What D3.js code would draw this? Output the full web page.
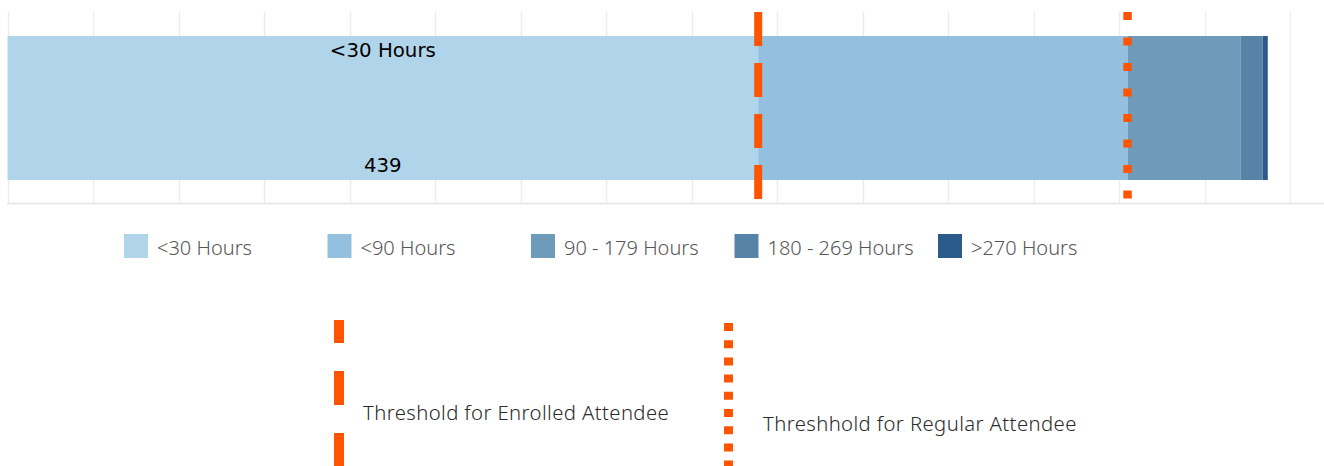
<!DOCTYPE html>
<html>
<head>
<meta charset="utf-8">
<script src="https://cdn.jsdelivr.net/npm/d3@7"></script>
<style>
  html, body { margin: 0; padding: 0; background: #fff; }
  svg { display: block; }
  text { font-family: "Noto Sans", "Open Sans", sans-serif; }
</style>
</head>
<body>
<svg id="chart" width="1324" height="466"></svg>
<script>
// ---- data ----
const categories = ["<30 Hours", "<90 Hours", "90 - 179 Hours", "180 - 269 Hours", ">270 Hours"];
const values = [439, 216, 66, 13, 3];
const colors = ["#b0d5eb", "#93c0de", "#6e9bba", "#5683a6", "#2c5a8a"];
const axisTicks = d3.range(0, 751, 50);
const thresholdValues = [439, 655];
const thresholdLabels = ["Threshold for Enrolled Attendee", "Threshhold for Regular Attendee"];
const barLabel = "<30 Hours";
const barValueLabel = "439";

// ---- layout ----
const svg = d3.select("#chart");
const x = d3.scaleLinear().domain([0, 750]).range([7.5, 1290]);
const plotTop = 12, plotBottom = 203;

// gridlines
svg.append("g").selectAll("line").data(axisTicks).join("line")
  .attr("x1", d => Math.round(x(d)) + 0.5).attr("x2", d => Math.round(x(d)) + 0.5)
  .attr("y1", plotTop).attr("y2", plotBottom)
  .attr("stroke", "#ececec").attr("stroke-width", 1.4);
svg.append("line").attr("x1", 7).attr("x2", 1324).attr("y1", plotBottom + 0.5).attr("y2", plotBottom + 0.5)
  .attr("stroke", "#e4e4e4").attr("stroke-width", 1.4);

// stacked segments
let cum = 0;
const segs = values.map((v, i) => { const s = { start: cum, end: cum + v, i }; cum += v; return s; });
svg.append("g").selectAll("rect").data(segs).join("rect")
  .attr("x", d => x(d.start)).attr("width", d => x(d.end) - x(d.start))
  .attr("y", 36).attr("height", 144)
  .attr("fill", d => colors[d.i]);

// bar labels
const firstMid = (x(segs[0].start) + x(segs[0].end)) / 2;
svg.append("text").attr("x", firstMid).attr("y", 57).attr("text-anchor", "middle")
  .style("font-family", "'DejaVu Sans', Verdana, sans-serif")
  .attr("font-size", 19.8).attr("fill", "#000").text(barLabel);
svg.append("text").attr("x", firstMid).attr("y", 172).attr("text-anchor", "middle")
  .style("font-family", "'DejaVu Sans', Verdana, sans-serif")
  .attr("font-size", 19.8).attr("fill", "#000").text(barValueLabel);

// reference lines
const refStyles = [
  { w: 8, dash: "34,17" },
  { w: 8.5, dash: "8,17.5" }
];
svg.append("g").selectAll("line").data(thresholdValues).join("line")
  .attr("x1", d => x(d)).attr("x2", d => x(d))
  .attr("y1", 12).attr("y2", 199)
  .attr("stroke", "#ff5500")
  .attr("stroke-width", (d, i) => refStyles[i].w)
  .attr("stroke-dasharray", (d, i) => refStyles[i].dash);

// color legend
const legX = d3.scalePoint().domain(categories).range([124, 938]);
const leg = svg.append("g").selectAll("g").data(categories).join("g")
  .attr("transform", d => `translate(${legX(d)},234)`);
leg.append("rect").attr("width", 24).attr("height", 24).attr("fill", (d, i) => colors[i]);
leg.append("text").attr("x", 33).attr("y", 20.5).attr("font-size", 20).attr("font-weight", 300)
  .attr("fill", "#555").text(d => d);

// threshold legend
const thLeg = [
  { lx: 339, y1: 320, w: 10, dash: "34,28", off: 11, tx: 363, ty: 420 },
  { lx: 728.5, y1: 323, w: 9, dash: "8,9.2", off: 0, tx: 763, ty: 431 }
];
const tg = svg.append("g").selectAll("g").data(thresholdLabels).join("g");
tg.append("line")
  .attr("x1", (d, i) => thLeg[i].lx).attr("x2", (d, i) => thLeg[i].lx)
  .attr("y1", (d, i) => thLeg[i].y1).attr("y2", 470)
  .attr("stroke", "#ff5500")
  .attr("stroke-width", (d, i) => thLeg[i].w)
  .attr("stroke-dasharray", (d, i) => thLeg[i].dash)
  .attr("stroke-dashoffset", (d, i) => thLeg[i].off);
tg.append("text")
  .attr("x", (d, i) => thLeg[i].tx).attr("y", (d, i) => thLeg[i].ty)
  .attr("font-size", 20.3).attr("font-weight", 300).attr("letter-spacing", 0.4)
  .attr("fill", "#2a2a2a").text(d => d);
</script>
</body>
</html>
